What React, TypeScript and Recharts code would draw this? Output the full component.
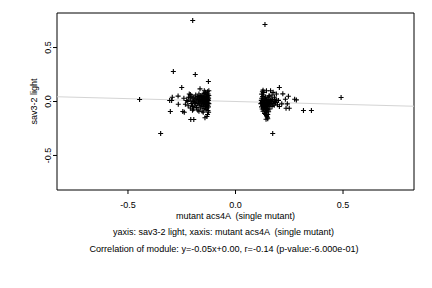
import React from "react";
import { ScatterChart, Scatter, XAxis, YAxis, ReferenceArea } from "recharts";

// points, [x, y]
const leftCluster: [number, number][] = [
  [-0.212, 0.035], [-0.208, 0.012], [-0.205, -0.02], [-0.203, 0.05], [-0.2, -0.045], [-0.198, 0.025],
  [-0.196, 0.0], [-0.195, -0.07], [-0.193, 0.04], [-0.19, -0.01], [-0.188, 0.015], [-0.187, -0.035],
  [-0.185, 0.06], [-0.183, 0.03], [-0.181, -0.055], [-0.18, 0.005], [-0.178, -0.02], [-0.176, 0.045],
  [-0.175, -0.08], [-0.173, 0.02], [-0.172, -0.005], [-0.17, 0.07], [-0.169, -0.04], [-0.168, 0.035],
  [-0.166, 0.01], [-0.165, -0.025], [-0.164, 0.055], [-0.162, -0.06], [-0.161, 0.0], [-0.16, 0.03],
  [-0.159, -0.015], [-0.158, 0.045], [-0.157, -0.035], [-0.156, 0.015], [-0.155, -0.09], [-0.154, 0.025],
  [-0.153, -0.005], [-0.152, 0.06], [-0.151, -0.045], [-0.15, 0.01], [-0.149, 0.04], [-0.148, -0.02],
  [-0.147, 0.075], [-0.146, -0.065], [-0.145, 0.02], [-0.144, -0.01], [-0.143, 0.05], [-0.142, -0.03],
  [-0.141, 0.005], [-0.14, 0.035], [-0.14, -0.05], [-0.139, 0.085], [-0.138, -0.015], [-0.137, 0.025],
  [-0.137, -0.075], [-0.136, 0.045], [-0.135, 0.0], [-0.135, -0.04], [-0.134, 0.065], [-0.133, 0.015],
  [-0.133, -0.025], [-0.132, 0.03], [-0.131, -0.06], [-0.131, 0.05], [-0.13, -0.005], [-0.13, 0.09],
  [-0.129, -0.035], [-0.129, 0.02], [-0.128, -0.085], [-0.128, 0.04], [-0.127, -0.015], [-0.127, 0.07],
  [-0.126, 0.01], [-0.126, -0.05], [-0.125, 0.03], [-0.125, -0.1], [-0.124, 0.055], [-0.124, -0.02],
  [-0.24, 0.03], [-0.222, 0.0], [-0.215, 0.07], [-0.21, -0.06], [-0.22, -0.04], [-0.165, 0.117],
  [-0.145, 0.1], [-0.124, 0.1], [-0.17, -0.09], [-0.2, -0.08], [-0.15, -0.1], [-0.13, -0.12],
  [-0.142, -0.151], [-0.133, -0.139], [-0.208, -0.167], [-0.194, -0.167], [-0.245, -0.093],
  [-0.238, -0.1], [-0.266, -0.025], [-0.306, 0.009], [-0.297, 0.009], [-0.294, 0.04], [-0.267, 0.05],
  [-0.227, 0.009], [-0.233, -0.025], [-0.21, 0.065], [-0.219, 0.04],
];

const rightCluster: [number, number][] = [
  [0.118, -0.02], [0.12, 0.01], [0.121, -0.05], [0.122, 0.03], [0.123, -0.01], [0.124, -0.07],
  [0.125, 0.0], [0.126, 0.045], [0.127, -0.03], [0.128, -0.09], [0.129, 0.015], [0.13, -0.04],
  [0.131, 0.06], [0.132, -0.015], [0.133, -0.06], [0.134, 0.005], [0.135, -0.11], [0.136, 0.025],
  [0.137, -0.035], [0.138, -0.005], [0.139, -0.08], [0.14, 0.04], [0.141, -0.02], [0.142, -0.05],
  [0.143, 0.01], [0.144, -0.13], [0.145, -0.03], [0.146, 0.02], [0.147, -0.065], [0.148, -0.01],
  [0.149, -0.15], [0.15, 0.005], [0.151, -0.045], [0.152, 0.035], [0.153, -0.02], [0.154, -0.095],
  [0.155, 0.0], [0.156, -0.04], [0.157, 0.05], [0.158, -0.015], [0.16, -0.07], [0.162, 0.01],
  [0.164, -0.03], [0.166, 0.02], [0.168, -0.005], [0.17, -0.045], [0.172, 0.015], [0.175, -0.02],
  [0.178, 0.0], [0.18, -0.035], [0.183, 0.02], [0.186, -0.01], [0.19, 0.005], [0.195, -0.03],
  [0.2, 0.01], [0.128, -0.025], [0.132, -0.045], [0.136, -0.055], [0.14, -0.06], [0.134, -0.02],
  [0.138, -0.045], [0.142, -0.035], [0.146, -0.05], [0.13, -0.07], [0.126, -0.04], [0.148, -0.075],
  [0.144, -0.1], [0.14, -0.12], [0.146, -0.14], [0.142, -0.165], [0.15, -0.16], [0.15, -0.12],
  [0.128, 0.105], [0.122, 0.068], [0.13, 0.085], [0.125, 0.09], [0.144, 0.1], [0.156, 0.052],
  [0.163, 0.1], [0.175, 0.085], [0.181, 0.04], [0.192, 0.009], [0.204, -0.046], [0.215, -0.022],
  [0.22, 0.071], [0.232, 0.021], [0.246, 0.049], [0.241, -0.022], [0.25, -0.062], [0.235, -0.062],
  [0.275, 0.021], [0.283, 0.015], [0.204, 0.13], [0.19, 0.07], [0.17, 0.06],
];

const outliers: [number, number][] = [
  [-0.199, 0.75], [-0.289, 0.278], [-0.187, 0.25], [-0.126, 0.185], [-0.25, 0.13], [-0.446, 0.019],
  [-0.348, -0.296], [-0.303, -0.093], [0.137, 0.713], [0.491, 0.037], [0.173, -0.296],
  [0.316, -0.083], [0.353, -0.083],
];

const xDomain: [number, number] = [-0.83, 0.83];
const yDomain: [number, number] = [-0.82, 0.82];
const xTicks = [-0.5, 0, 0.5];
const yTicks = [-0.5, 0, 0.5];

// fitted line of the module
const fitSlope = -0.053;
const fitIntercept = 0.0;

const xLabel = "mutant acs4A  (single mutant)";
const yLabel = "sav3-2 light";
const caption1 = "yaxis: sav3-2 light, xaxis: mutant acs4A  (single mutant)";
const caption2 = "Correlation of module: y=-0.05x+0.00, r=-0.14 (p-value:-6.000e-01)";

const FONT = "'Liberation Sans', Arial, Helvetica, sans-serif";

const points = [...leftCluster, ...rightCluster, ...outliers].map(([x, y]) => ({ x, y }));
const fitLine = xDomain.map((x) => ({ x, y: fitSlope * x + fitIntercept }));

const Plus = (props: any) => {
  const { cx, cy } = props;
  if (cx == null || cy == null) return <g />;
  return <path d={`M${cx - 2.5},${cy}h5M${cx},${cy - 2.5}v5`} stroke="#000" strokeWidth={1.1} fill="none" />;
};

const YTick = (props: any) => {
  const { x, y, payload } = props;
  return (
    <text x={x} y={y} transform={`rotate(-90 ${x} ${y})`} textAnchor="middle" fontSize={9} fill="#000" fontFamily={FONT}>
      {Number(payload.value).toFixed(1)}
    </text>
  );
};

export default function App() {
  return (
    <div style={{ position: "absolute", left: 0, top: 0, width: 432, height: 288, background: "#fff" }}>
      <ScatterChart width={432} height={288} margin={{ top: 13, right: 18, bottom: 0, left: 0 }}>
        <XAxis
          type="number"
          dataKey="x"
          domain={xDomain}
          ticks={xTicks}
          allowDataOverflow
          axisLine={false}
          tickLine={{ stroke: "#000" }}
          tickSize={4}
          tickMargin={8}
          height={98}
          tick={{ fontSize: 9, fill: "#000", fontFamily: FONT }}
          tickFormatter={(v: number) => v.toFixed(1)}
        />
        <YAxis
          type="number"
          dataKey="y"
          domain={yDomain}
          ticks={yTicks}
          allowDataOverflow
          axisLine={false}
          tickLine={{ stroke: "#000" }}
          tickSize={4}
          tickMargin={2}
          width={57}
          tick={<YTick />}
        />
        <ReferenceArea x1={xDomain[0]} x2={xDomain[1]} y1={yDomain[0]} y2={yDomain[1]} fill="none" stroke="#000" strokeWidth={1} fillOpacity={0} />
        <Scatter data={fitLine} line={{ stroke: "#d4d4d4", strokeWidth: 1 }} shape={() => <g />} isAnimationActive={false} />
        <Scatter data={points} shape={<Plus />} isAnimationActive={false} />
      </ScatterChart>
      <svg width={432} height={288} style={{ position: "absolute", left: 0, top: 0, pointerEvents: "none" }}>
        <text transform="translate(36.5 101.5) rotate(-90)" textAnchor="middle" fill="#000" fontFamily={FONT} fontSize={9}>{yLabel}</text>
        <text x={235.5} y={219} textAnchor="middle" fill="#000" fontFamily={FONT} fontSize={9} style={{ whiteSpace: "pre" }}>{xLabel}</text>
        <text x={223.5} y={235} textAnchor="middle" fill="#000" fontFamily={FONT} fontSize={9} style={{ whiteSpace: "pre" }}>{caption1}</text>
        <text x={224} y={251.5} textAnchor="middle" fill="#000" fontFamily={FONT} fontSize={9.1}>{caption2}</text>
      </svg>
    </div>
  );
}
